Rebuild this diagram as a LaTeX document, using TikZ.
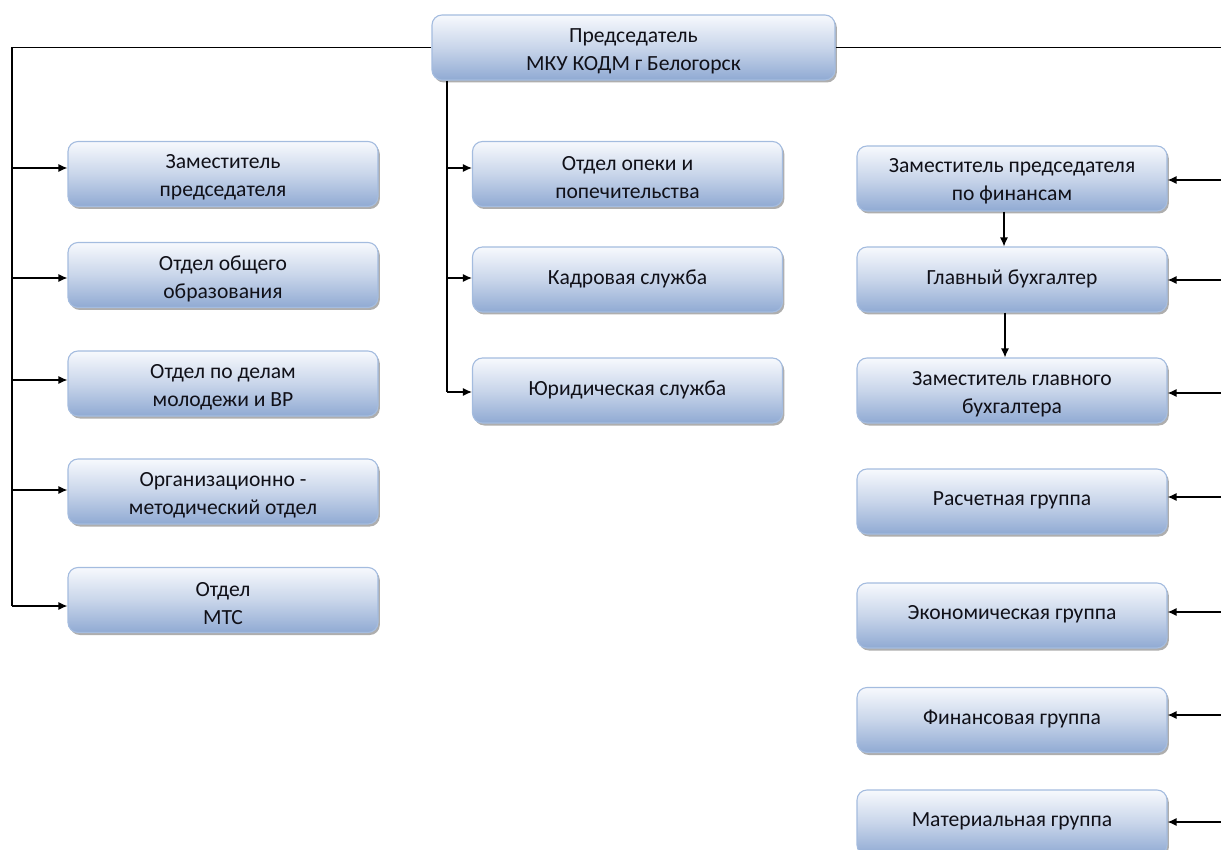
\documentclass[tikz,border=0pt]{standalone}
\usepackage{fontspec}
\setmainfont{Carlito}
\usetikzlibrary{shadows,arrows.meta,calc}
\definecolor{boxtop}{HTML}{F7F9FD}
\definecolor{boxbot}{HTML}{90AAD3}
\definecolor{boxline}{HTML}{A4BCDF}
\definecolor{txt}{HTML}{101018}
\tikzset{
  orgbox/.style={draw=boxline, line width=1.1pt, rounded corners=10pt,
    top color=boxtop, bottom color=boxbot, middle color=boxtop!55!boxbot,
    minimum width=310pt, minimum height=65pt, inner sep=0pt,
    drop shadow={shadow xshift=1.8pt, shadow yshift=-2.5pt, opacity=0.45, fill=black!70}},
  lbl/.style={inner sep=0pt, align=center, text=txt, font=\fontsize{21.6}{28}\selectfont},
  conn/.style={line width=1.2pt, black},
  arr/.style={conn, -{Latex[length=9pt,width=8pt]}}
}
% #1 name, #2 position, #3 text shift, #4 text, #5 extra box options
\newcommand\orgnode[5][]{%
  \node[orgbox,#1] (#2) at (#3) {};
  \node[lbl] (#2t) at ([yshift=#4]#2.center) {#5};}
\begin{document}
\begin{tikzpicture}[x=1pt,y=-1pt]
\useasboundingbox (0,0) rectangle (1221,850);
% chairman
\orgnode[minimum width=403pt]{ch}{633.5,47.5}{-4pt}{Председатель\\МКУ КОДМ г Белогорск}
% left column
\orgnode{l1}{223,174}{-3.5pt}{Заместитель\\председателя}
\orgnode{l2}{223,275}{-3.5pt}{Отдел общего\\образования}
\orgnode{l3}{223,383.5}{-3.5pt}{Отдел по делам\\молодежи и ВР}
\orgnode{l4}{223,491.5}{-3.5pt}{Организационно -\\методический отдел}
\orgnode{l5}{223,600}{-3.5pt}{Отдел\\МТС}
% middle column
\orgnode{m1}{627.5,174}{-3.5pt}{Отдел опеки и\\попечительства}
\orgnode{m2}{627.5,279.5}{1pt}{Кадровая служба}
\orgnode{m3}{627.5,390.5}{1pt}{Юридическая служба}
% right column
\orgnode{r1}{1012,178.5}{-3pt}{Заместитель председателя\\по финансам}
\orgnode{r2}{1012,279.5}{1pt}{Главный бухгалтер}
\orgnode{r3}{1012,390.5}{-3.5pt}{Заместитель главного\\бухгалтера}
\orgnode{r4}{1012,501.5}{1pt}{Расчетная группа}
\orgnode{r5}{1012,615.5}{1pt}{Экономическая группа}
\orgnode{r6}{1012,720}{1pt}{Финансовая группа}
\orgnode{r7}{1012,822.5}{1pt}{Материальная группа}
% coordinates
\coordinate (L) at (12,606);
\coordinate (M) at (447,392);
\coordinate (R) at (1221,47.5);
% left trunk
\draw[conn] (ch.west) -| (L);
\foreach \n/\y in {l1/168,l2/278,l3/380,l4/490,l5/606}
  \draw[arr] (12,\y) -- (\n.west |- 0,\y);
% middle trunk
\draw[conn] (ch.south -| M) -- (M);
\foreach \n/\y in {m1/168,m2/278,m3/392}
  \draw[arr] (447,\y) -- (\n.west |- 0,\y);
% right
\draw[conn] (ch.east) -- (R);
\foreach \n/\y in {r1/180,r2/280,r3/393,r4/497,r5/612,r6/715,r7/822}
  \draw[arr] (1221,\y) -- (\n.east |- 0,\y);
\draw[arr] ([xshift=-8pt]r1.south) -- ([xshift=-8pt]r2.north);
\draw[arr] ([xshift=-7pt]r2.south) -- ([xshift=-7pt]r3.north);
\end{tikzpicture}
\end{document}
